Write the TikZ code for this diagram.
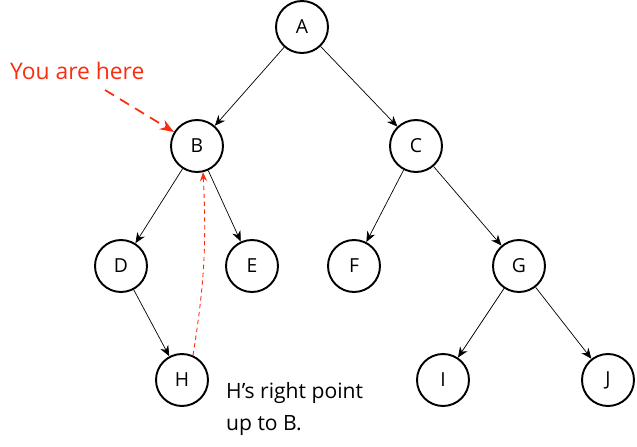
\documentclass[tikz,border=0pt]{standalone}
\usepackage{fontspec}
\setmainfont{Open Sans}
\usepackage{xcolor}
\usepackage{tikz}
\usetikzlibrary{arrows.meta}
\definecolor{herered}{RGB}{250,45,15}

\begin{document}
\begin{tikzpicture}[x=0.02cm, y=-0.02cm,
    vertex/.style={circle, draw, line width=1.1pt, minimum size=1.04cm, inner sep=0pt, font=\fontsize{11}{13}\selectfont},
    edge/.style={-{Stealth[length=6pt,width=5pt]}, line width=0.4pt},
    pointer/.style={herered, line width=1pt, dash pattern=on 6pt off 4pt, -{Stealth[length=8pt,width=6pt]}},
    backlink/.style={herered, line width=0.5pt, dash pattern=on 2.5pt off 2pt, -{Stealth[length=5pt,width=4pt]}}]
    \useasboundingbox (0,0) rectangle (637,447);

    \foreach \name/\x/\y in {A/302/27, B/197/146, C/416/146, D/121/266, E/252/266,
                             F/354/266, G/519/266, H/182/380, I/443/380, J/608/380}
        \node[vertex] (\name) at (\x,\y) {\name};

    \foreach \from/\to in {A/B, A/C, B/D, B/E, C/F, C/G, D/H, G/I, G/J}
        \draw[edge] (\from) -- (\to);

    % the marker
    \node[anchor=base west, herered, font=\fontsize{13}{15}\selectfont] (here) at (4,79) {You are here};
    \coordinate (hereend) at (105,90);
    \draw[pointer] (hereend) -- (B);

    % the thread from H back to B
    \draw[backlink] (H.66) to[bend right=6] (B.283);
    \node[anchor=base west, align=left, font=\fontsize{12}{18}\selectfont] (note) at (220,430)
        {H's right point\\up to B.};
\end{tikzpicture}
\end{document}
